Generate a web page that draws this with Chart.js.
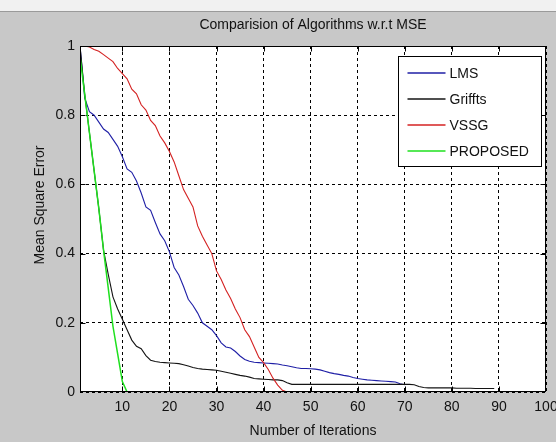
<!DOCTYPE html>
<html>
<head>
<meta charset="utf-8">
<script src="https://cdn.jsdelivr.net/npm/chart.js@4"></script>
<style>
  html, body { margin: 0; padding: 0; background: #c8c8c8; }
  #wrap { position: relative; width: 556px; height: 442px; overflow: hidden; }
  #strip { position: absolute; left: 0; top: 0; width: 556px; height: 11px; background: #f1f1f1; border-bottom: 1px solid #9a9a9a; }
  canvas { position: absolute; left: 0; top: 0; }
</style>
</head>
<body>
<div id="wrap">
  <div id="strip"></div>
  <canvas id="chart" width="556" height="442"></canvas>
</div>
<script>
const titleText = 'Comparision of Algorithms w.r.t MSE';
const xTitle = 'Number of Iterations';
const yTitle = 'Mean Square Error';

const xTicks = [10, 20, 30, 40, 50, 60, 70, 80, 90, 100];
const xTickLabels = ['10', '20', '30', '40', '50', '60', '70', '80', '90', '100'];
const yTicks = [0, 0.2, 0.4, 0.6, 0.8, 1];
const yTickLabels = ['0', '0.2', '0.4', '0.6', '0.8', '1'];

const seriesNames = ['LMS', 'Griffts', 'VSSG', 'PROPOSED'];
const seriesColours = ['#1f1fa6', '#141414', '#d42222', '#1ee01e'];

// MSE per iteration, starting at iteration 1
const lms = [1.0, 0.85, 0.81, 0.80, 0.78, 0.76, 0.75, 0.73, 0.71, 0.68,
  0.645, 0.635, 0.61, 0.575, 0.535, 0.525, 0.49, 0.457, 0.437, 0.405,
  0.36, 0.338, 0.305, 0.268, 0.25, 0.228, 0.20, 0.19, 0.18, 0.163,
  0.142, 0.13, 0.127, 0.117, 0.104, 0.094, 0.089, 0.086, 0.085, 0.084,
  0.083, 0.082, 0.081, 0.078, 0.076, 0.073, 0.07, 0.068, 0.068, 0.067,
  0.066, 0.064, 0.06, 0.056, 0.053, 0.051, 0.048, 0.046, 0.042, 0.039,
  0.037, 0.035, 0.034, 0.033, 0.032, 0.031, 0.030, 0.029, 0.024, 0.021];

const griffts = [1.0, 0.86, 0.75, 0.64, 0.53, 0.41, 0.34, 0.275, 0.24, 0.21,
  0.18, 0.15, 0.132, 0.125, 0.105, 0.092, 0.088, 0.086, 0.085, 0.084,
  0.083, 0.082, 0.079, 0.075, 0.071, 0.068, 0.066, 0.065, 0.064, 0.063,
  0.06, 0.057, 0.054, 0.051, 0.048, 0.046, 0.043, 0.039, 0.038, 0.037,
  0.036, 0.035, 0.035, 0.033, 0.027, 0.022, 0.022, 0.022, 0.022, 0.022,
  0.022, 0.022, 0.022, 0.022, 0.022, 0.022, 0.022, 0.022, 0.022, 0.022,
  0.022, 0.022, 0.022, 0.022, 0.022, 0.022, 0.022, 0.022, 0.022, 0.022,
  0.022, 0.021, 0.016, 0.013, 0.012, 0.012, 0.012, 0.012, 0.012, 0.012,
  0.011, 0.011, 0.011, 0.011, 0.01, 0.01, 0.01, 0.01, 0.01];

const vssg = [1.0, 1.0, 0.997, 0.99, 0.985, 0.975, 0.965, 0.955, 0.935, 0.92,
  0.905, 0.875, 0.862, 0.83, 0.815, 0.785, 0.77, 0.74, 0.72, 0.695,
  0.665, 0.625, 0.585, 0.56, 0.535, 0.48, 0.45, 0.425, 0.40, 0.35,
  0.325, 0.295, 0.27, 0.24, 0.215, 0.18, 0.16, 0.13, 0.10, 0.085,
  0.065, 0.04, 0.02, 0.005, 0, 0];

const proposed = [0.97, 0.86, 0.75, 0.64, 0.53, 0.41, 0.30, 0.19, 0.11, 0.03,
  0, 0, 0, 0, 0, 0, 0, 0, 0, 0,
  0, 0, 0, 0, 0, 0, 0, 0, 0, 0,
  0, 0, 0, 0, 0, 0, 0, 0, 0, 0,
  0, 0, 0, 0, 0, 0, 0, 0, 0, 0,
  0, 0, 0, 0, 0, 0, 0, 0, 0, 0,
  0, 0, 0, 0, 0, 0, 0, 0, 0, 0,
  0, 0, 0, 0, 0, 0, 0, 0, 0, 0,
  0, 0, 0, 0, 0, 0, 0, 0, 0, 0,
  0, 0, 0, 0, 0, 0, 0, 0, 0, 0];

const FAMILY = "'Liberation Sans', Arial, sans-serif";
const FS = 14;
const fontStr = size => `${size}px ${FAMILY}`;

const toPoints = arr => arr.map((v, i) => ({ x: i + 1, y: v }));
const allSeries = [lms, griffts, vssg, proposed];

const frame = {
  id: 'frame',
  beforeDraw(chart) {
    const { ctx, chartArea: a } = chart;
    ctx.save();
    ctx.fillStyle = '#ffffff';
    ctx.fillRect(a.left, a.top, a.right - a.left, a.bottom - a.top);
    ctx.restore();
  },
  afterDraw(chart) {
    const { ctx, chartArea: a } = chart;
    const xs = chart.scales.x, ys = chart.scales.y;
    const L = Math.round(a.left) + 0.5, R = Math.round(a.right) - 0.5;
    const T = Math.round(a.top) + 0.5, B = Math.round(a.bottom) - 0.5;
    ctx.save();
    ctx.strokeStyle = '#000';
    ctx.lineWidth = 1;
    ctx.setLineDash([]);
    ctx.strokeRect(L, T, R - L, B - T);

    // inward tick marks
    ctx.beginPath();
    xTicks.slice(0, -1).forEach(v => {
      const px = Math.round(xs.getPixelForValue(v)) + 0.5;
      ctx.moveTo(px, B); ctx.lineTo(px, B - 5);
      ctx.moveTo(px, T); ctx.lineTo(px, T + 5);
    });
    yTicks.slice(1, -1).forEach(v => {
      const py = Math.round(ys.getPixelForValue(v)) + 0.5;
      ctx.moveTo(L, py); ctx.lineTo(L + 5, py);
      ctx.moveTo(R, py); ctx.lineTo(R - 5, py);
    });
    ctx.stroke();

    // legend box
    const bw = 143, bh = 110;
    const bx = Math.round(a.right - 5 - bw) + 0.5, by = Math.round(a.top + 10) + 0.5;
    ctx.fillStyle = '#fff';
    ctx.fillRect(bx, by, bw, bh);
    ctx.strokeStyle = '#000';
    ctx.strokeRect(bx, by, bw, bh);
    ctx.font = fontStr(FS);
    ctx.textBaseline = 'middle';
    ctx.textAlign = 'left';
    seriesNames.forEach((name, i) => {
      const ry = Math.round(by + 16 + i * 26);
      ctx.strokeStyle = seriesColours[i];
      ctx.lineWidth = 1.5;
      ctx.beginPath();
      ctx.moveTo(bx + 9, ry); ctx.lineTo(bx + 47, ry);
      ctx.stroke();
      ctx.fillStyle = '#111';
      ctx.fillText(name, bx + 51, ry + 1);
    });

    // titles
    const cx = (a.left + a.right) / 2;
    ctx.fillStyle = '#111';
    ctx.textAlign = 'center';
    ctx.textBaseline = 'middle';
    ctx.font = fontStr(FS);
    ctx.fillText(titleText, cx, 25);
    ctx.fillText(xTitle, cx, 431);
    ctx.translate(40, 205);
    ctx.rotate(-Math.PI / 2);
    ctx.fillText(yTitle, 0, 0);
    ctx.restore();
  }
};

const ctx = document.getElementById('chart').getContext('2d');
new Chart(ctx, {
  type: 'line',
  data: {
    datasets: seriesNames.map((name, i) => ({
      label: name,
      data: toPoints(allSeries[i]),
      borderColor: seriesColours[i],
      borderWidth: i === 3 ? 1.5 : 1.1,
      pointRadius: 0,
      tension: 0,
      fill: false,
      order: 4 - i
    }))
  },
  options: {
    responsive: false,
    animation: false,
    devicePixelRatio: 1,
    layout: { padding: { top: 46, right: 10, left: 0, bottom: 0 } },
    plugins: {
      legend: { display: false },
      title: { display: false },
      tooltip: { enabled: false }
    },
    scales: {
      x: {
        type: 'linear',
        min: 1,
        max: 100,
        afterBuildTicks: s => { s.ticks = xTicks.map(v => ({ value: v })); },
        afterFit: s => { s.height = 50; s.paddingLeft = 0; s.paddingRight = 0; },
        grid: { color: '#000', lineWidth: 1, drawTicks: false },
        border: { display: false, dash: [3, 3] },
        ticks: {
          color: '#111',
          font: { family: FAMILY, size: FS },
          padding: 7,
          maxRotation: 0,
          autoSkip: false,
          callback: (v, i) => xTickLabels[i]
        }
      },
      y: {
        min: 0,
        max: 1,
        afterBuildTicks: s => { s.ticks = yTicks.map(v => ({ value: v })); },
        afterFit: s => { s.width = 80; s.paddingTop = 0; s.paddingBottom = 0; },
        grid: { color: '#000', lineWidth: 1, drawTicks: false },
        border: { display: false, dash: [3, 3] },
        ticks: {
          color: '#111',
          font: { family: FAMILY, size: FS },
          padding: 5,
          autoSkip: false,
          callback: (v, i) => yTickLabels[i]
        }
      }
    }
  },
  plugins: [frame]
});
</script>
</body>
</html>
